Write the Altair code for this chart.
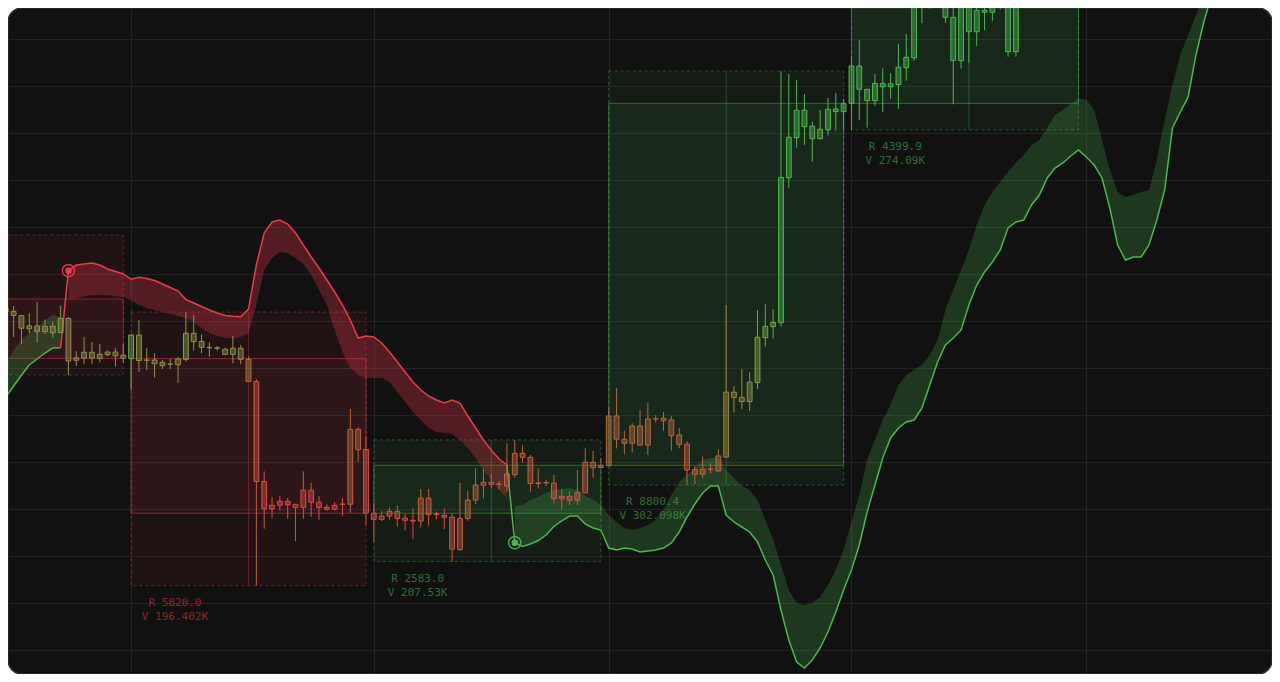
import altair as alt
import pandas as pd

# ---------------- candles (daily) ----------------
opens = [67200, 67205, 67115, 66835, 66895, 66775, 66890, 66755, 67055, 66165,
         66210, 66335, 66205, 66285, 66340, 66275, 66200, 66700, 66165, 66170,
         66120, 66080, 66070, 66185, 66740, 66565, 66440, 66430, 66400, 66290,
         66420, 66185, 65715, 63585, 63005, 63080, 63165, 63100, 63035, 63400,
         63145, 63035, 62995, 63100, 63100, 64695, 64265, 62910, 62780, 62850,
         62950, 62805, 62760, 62745, 63230, 62885, 62825, 62825, 62135, 62800,
         63190, 63505, 63570, 63525, 63490, 63730, 64185, 64100, 63540, 63555,
         63550, 63220, 63270, 63185, 63347, 63995, 63885, 63920, 64980, 64485,
         64400, 64765, 64360, 64915, 64930, 64895, 64575, 64380, 63845, 63740,
         63845, 63810, 64105, 65485, 65375, 65285, 65690, 66645, 66880, 66965,
         70050, 70900, 71485, 71145, 70880, 71070, 71455, 71455, 71630, 72425,
         71930, 71690, 72055, 71985, 72030, 72390, 72600, 73700, 74255, 74100,
         74300, 73460, 72540, 73940, 73155, 73610, 73570, 74045, 74250, 72730]
highs = [67425, 67320, 67130, 67165, 67400, 67030, 66985, 67325, 67080, 66360,
         66660, 66555, 66515, 66375, 66430, 66510, 66715, 67020, 66420, 66315,
         66170, 66190, 66240, 67190, 67130, 66715, 66545, 66470, 66430, 66680,
         66490, 66240, 65760, 63800, 63255, 63275, 63235, 63100, 63800, 63555,
         63275, 63100, 63150, 63230, 65130, 64740, 64555, 63120, 62955, 63035,
         63080, 62895, 63015, 63425, 63425, 62945, 63015, 62900, 63555, 63390,
         63865, 63865, 63745, 63595, 64400, 64470, 64360, 64150, 63865, 63615,
         63725, 63420, 63385, 63830, 64290, 64235, 64085, 65165, 65570, 64665,
         64825, 65105, 65260, 65000, 65065, 64980, 64725, 64445, 63915, 64115,
         63970, 64270, 67340, 65615, 65980, 65910, 67235, 67355, 67255, 72320,
         72255, 72130, 71830, 71235, 71490, 71745, 71850, 71725, 72625, 72980,
         71935, 72255, 72375, 72270, 72895, 73105, 74360, 75000, 74700, 74900,
         74600, 73800, 74255, 74150, 73830, 73900, 74255, 74500, 74470, 74575]
lows = [67045, 66660, 66510, 66740, 66545, 66725, 66645, 66750, 65850, 66045,
        66085, 66085, 66115, 66255, 66030, 66100, 65545, 65920, 65955, 65795,
        65980, 65980, 65685, 66135, 66370, 66315, 66240, 66370, 66275, 66100,
        66080, 65715, 61370, 62580, 62795, 62965, 62795, 62315, 62795, 62835,
        62770, 62965, 62965, 62855, 62920, 64005, 62645, 62305, 62740, 62770,
        62625, 62540, 62355, 62610, 62645, 62780, 62570, 61880, 62115, 62750,
        63105, 63230, 63440, 63420, 63370, 63675, 63985, 63370, 63440, 63490,
        63120, 62980, 63085, 63085, 63335, 63665, 63885, 63920, 64290, 64165,
        64200, 64345, 64150, 64845, 64665, 64240, 64290, 63510, 63530, 63655,
        63760, 63795, 64090, 65050, 65130, 65085, 65555, 66455, 66625, 66880,
        69835, 70685, 70745, 70390, 70865, 70945, 71050, 71065, 71065, 71275,
        71115, 71575, 71445, 71730, 71515, 72115, 72540, 73335, 73645, 73800,
        73345, 71610, 72370, 72495, 72855, 73190, 73390, 73630, 72625, 72625]
closes = [67270, 67115, 66845, 66895, 66780, 66885, 66750, 67055, 66150, 66215,
          66335, 66210, 66290, 66340, 66260, 66205, 66700, 66160, 66170, 66090,
          66050, 66085, 66190, 66740, 66560, 66440, 66430, 66420, 66290, 66420,
          66185, 65715, 63585, 63005, 63080, 63165, 63090, 63035, 63400, 63145,
          63035, 62995, 63080, 63105, 64695, 64260, 62910, 62780, 62850, 62950,
          62800, 62760, 62745, 63230, 62885, 62895, 62865, 62145, 62800, 63190,
          63510, 63570, 63525, 63530, 63745, 64185, 64100, 63540, 63555, 63565,
          63220, 63270, 63185, 63355, 63995, 63880, 63930, 64980, 64485, 64400,
          64765, 64360, 64915, 64920, 64880, 64560, 64375, 63830, 63740, 63845,
          63850, 64130, 65485, 65375, 65285, 65700, 66655, 66885, 66970, 70055,
          70910, 71485, 71135, 70880, 71080, 71505, 71510, 71630, 72425, 71930,
          71690, 72055, 71985, 72045, 72400, 72610, 74150, 74680, 73940, 74600,
          73460, 72540, 74045, 73155, 73610, 73570, 74045, 74250, 72730, 74360]
# trend-strength tone of each candle: 0 = bearish red ... 3 = bullish green
tones = [2.2, 2.1, 2.1, 2.1, 2.2, 2.2, 2.2, 2.4, 1.9, 2.0,
         2.0, 1.9, 1.9, 1.9, 1.9, 1.8, 2.5, 2.0, 2.1, 1.9,
         2.0, 2.0, 1.9, 2.4, 2.3, 2.1, 2.1, 2.0, 1.9, 2.0,
         1.8, 1.4, 0.5, 0.3, 0.15, 0.15, 0.15, 0.15, 0.2, 0.2,
         0.15, 0.15, 0.15, 0.2, 0.9, 0.7, 0.2, 0.15, 0.15, 0.15,
         0.15, 0.15, 0.15, 0.5, 0.5, 0.3, 0.3, 0.4, 0.5, 0.6,
         0.7, 0.7, 0.7, 0.7, 0.7, 0.8, 0.8, 0.6, 0.7, 0.7,
         0.4, 0.3, 0.3, 0.4, 0.5, 0.7, 0.7, 1.0, 0.9, 0.9,
         0.9, 0.8, 0.9, 0.9, 0.9, 0.8, 0.7, 0.5, 0.4, 0.5,
         0.5, 0.6, 1.6, 1.7, 1.8, 2.0, 2.4, 2.6, 2.7, 3.0,
         3.0, 3.0, 3.0, 2.9, 2.9, 3.0, 3.0, 3.0, 3.0, 3.0,
         3.0, 3.0, 3.0, 3.0, 3.0, 3.0, 3.0, 3.0, 3.0, 3.0,
         3.0, 3.0, 3.0, 3.0, 3.0, 3.0, 3.0, 3.0, 3.0, 3.0]

# ---------------- trailing trend bands ----------------
bull_left_start = 0
bull_left_line = [65383, 65617, 65851, 66064, 66191, 66319, 66426, 66432]
bull_left_edge = [66064, 66383, 66596, 66745, 66872, 67021, 67128, 67085]

bear_start = 8
bear_line = [68070, 68191, 68213, 68234, 68191, 68106, 68053, 68000,
             67887, 67930, 67904, 67862, 67787, 67713, 67638, 67457, 67383, 67309,
             67234, 67170, 67117, 67102, 67091, 67255, 68191, 68872, 69106, 69149,
             69064, 68872, 68617, 68362, 68128, 67872, 67617, 67340, 67021, 66638,
             66681, 66660, 66532, 66340, 66128, 65915, 65702, 65532, 65404, 65319,
             65255, 65319, 65255, 64979, 64723, 64468, 64255, 64064, 63936]
bear_edge = [67468, 67489, 67532, 67553, 67553, 67553, 67532, 67511,
             67447, 67340, 67277, 67234, 67191, 67149, 67106, 67064, 66979, 66851,
             66745, 66681, 66638, 66628, 66660, 66745, 67340, 68085, 68340, 68468,
             68447, 68340, 68213, 67979, 67660, 67340, 66809, 66340, 66000, 65851,
             65787, 65787, 65787, 65702, 65489, 65277, 65064, 64894, 64723, 64638,
             64617, 64596, 64468, 64298, 64085, 63830, 63617, 63404, 63234]

bull_start = 65
bull_line = [62283, 62202, 62255, 62330, 62447, 62628, 62745, 62851, 62851, 62681,
             62596, 62553, 62170, 62128, 62170, 62149, 62085, 62106, 62128, 62170,
             62277, 62511, 62830, 63106, 63340, 63489, 63489, 62872, 62723, 62617,
             62511, 62298, 61915, 61596, 60851, 60213, 59745, 59617, 59787, 60043,
             60383, 60809, 61277, 61702, 62234, 62936, 63511, 64085, 64511, 64723,
             64851, 64894, 65149, 65638, 66128, 66489, 66638, 66809, 67340, 67766,
             68043, 68255, 68511, 68979, 69106, 69149, 69468, 69681, 70043, 70255,
             70362, 70511, 70638, 70489, 70319, 70043, 69404, 68617, 68298, 68362,
             68362, 68617, 69149, 69787, 71106, 71447, 71766, 72660, 73362, 73936]
bull_edge = [63064, 63085, 63191, 63255, 63340, 63404, 63426, 63447, 63404, 63277,
             63191, 63085, 62872, 62723, 62596, 62553, 62596, 62660, 62766, 62979,
             63298, 63574, 63723, 63872, 64043, 64085, 64085, 63830, 63660, 63489,
             63404, 63191, 62766, 62340, 61809, 61277, 61000, 60957, 61000, 61128,
             61383, 61702, 62128, 62723, 63298, 64043, 64468, 64894, 65213, 65638,
             65851, 65957, 66064, 66277, 66596, 67234, 67660, 68085, 68511, 69043,
             69468, 69745, 69957, 70170, 70362, 70532, 70745, 70851, 71106, 71383,
             71489, 71617, 71745, 71702, 71489, 70851, 70213, 69745, 69638, 69681,
             69745, 69787, 70426, 71277, 72021, 72660, 73085, 73511, 73936, 74468]

# ---------------- monthly range boxes ----------------
box_start = [-15, 16, 47, 77, 108]
box_end = [15, 46, 76, 107, 137]
box_mid = [0, 31, 62, 92, 123]
box_high = [68830, 67190, 64470, 72320, 75464]
box_low = [65850, 61370, 61880, 63510, 71064]
box_open = [67468, 66200, 62910, 63930, 71630]
box_close = [66205, 62910, 63930, 71630, 74800]
box_trend = ["bear", "bear", "bull", "bull", "bull"]
box_range_text = ["", "5820.0", "2583.0", "8800.4", "4399.9"]
box_volume_text = ["", "196.402K", "207.53K", "302.098K", "274.09K"]

# ---------------- tables ----------------
candles = pd.DataFrame({"i": list(range(len(opens))), "o": opens, "h": highs,
                        "l": lows, "c": closes, "tone": tones})
candles["top"] = candles[["o", "c"]].max(axis=1)
candles["bot"] = candles[["o", "c"]].min(axis=1)

line_rows = []
for k, v in enumerate(bull_left_line):
    line_rows.append({"seg": "g1", "trend": "bull", "i": bull_left_start + k, "v": v})
line_rows.append({"seg": "r", "trend": "bear", "i": bear_start - 1, "v": bull_left_line[-1]})
for k, v in enumerate(bear_line):
    line_rows.append({"seg": "r", "trend": "bear", "i": bear_start + k, "v": v})
line_rows.append({"seg": "g2", "trend": "bull", "i": bull_start - 1, "v": bear_line[-1]})
for k, v in enumerate(bull_line):
    line_rows.append({"seg": "g2", "trend": "bull", "i": bull_start + k, "v": v})
lines = pd.DataFrame(line_rows)


def band_table(start, ln, ed):
    return pd.DataFrame({"i": [start + k for k in range(len(ln))], "v": ln, "e": ed})


band_g1 = band_table(bull_left_start, bull_left_line, bull_left_edge)
band_r = band_table(bear_start, bear_line, bear_edge)
band_g2 = band_table(bull_start, bull_line, bull_edge)

flips = pd.DataFrame({"i": [bear_start, bull_start],
                      "v": [bear_line[0], bull_line[0]],
                      "trend": ["bear", "bull"]})

boxes = pd.DataFrame({"start": box_start, "end": box_end, "mid": box_mid,
                      "high": box_high, "low": box_low, "open": box_open,
                      "close": box_close, "trend": box_trend,
                      "rng": box_range_text, "vol": box_volume_text})
labels = boxes[boxes["rng"] != ""].copy()
labels["lx"] = labels["start"] + 5.6
labels["rtext"] = "R " + labels["rng"]
labels["vtext"] = "V " + labels["vol"]

# ---------------- scales ----------------
BEAR = "#ef3a4c"
BULL = "#4cb850"
xs = alt.Scale(domain=[0.28, 161.71], nice=False, zero=False, padding=0)
ys = alt.Scale(domain=[59489.4, 73659.6], nice=False, zero=False, padding=0)
xaxis = alt.Axis(values=[16, 47, 77, 108, 138], labels=False, ticks=False,
                 domain=False, grid=True, title=None)
yaxis = alt.Axis(values=list(range(60000, 74000, 1000)), labels=False, ticks=False,
                 domain=False, grid=True, title=None)
trend_scale = alt.Scale(domain=["bear", "bull"], range=[BEAR, BULL])
tone_scale = alt.Scale(domain=[0, 1, 2, 3],
                       range=["#e8404c", "#b26a42", "#8e924c", "#4cb850"])


def X(f):
    return alt.X(f"{f}:Q", scale=xs, axis=xaxis)


def Y(f):
    return alt.Y(f"{f}:Q", scale=ys, axis=yaxis)


tcol = alt.Color("trend:N", scale=trend_scale, legend=None)
tfill = alt.Fill("trend:N", scale=trend_scale, legend=None)
tstroke = alt.Stroke("trend:N", scale=trend_scale, legend=None)

box_outer = alt.Chart(boxes).mark_rect(
    fillOpacity=0.07, strokeOpacity=0.4, strokeWidth=1, strokeDash=[3, 3], clip=True
).encode(x=X("start"), x2="end", y=Y("high"), y2="low", fill=tfill, stroke=tstroke)

box_inner = alt.Chart(boxes).mark_rect(
    fillOpacity=0.07, strokeOpacity=0.5, strokeWidth=1, clip=True
).encode(x=X("start"), x2="end", y=Y("open"), y2="close", fill=tfill, stroke=tstroke)

box_mid_rule = alt.Chart(boxes).mark_rule(strokeOpacity=0.35, strokeWidth=1, clip=True).encode(
    x=X("mid"), y=Y("high"), y2="low", color=tcol)


def band_layer(df, colour, op):
    return alt.Chart(df).mark_area(color=colour, opacity=op, clip=True).encode(
        x=X("i"), y=Y("v"), y2=alt.Y2("e:Q"))


area_g1 = band_layer(band_g1, BULL, 0.24)
area_r = band_layer(band_r, BEAR, 0.29)
area_g2 = band_layer(band_g2, BULL, 0.24)

trend_line = alt.Chart(lines).mark_line(strokeWidth=1.5, clip=True).encode(
    x=X("i"), y=Y("v"), color=tcol, detail="seg:N", order="i:Q")

tc = alt.Color("tone:Q", scale=tone_scale, legend=None)
wick_up = alt.Chart(candles).mark_rule(strokeWidth=1, clip=True).encode(
    x=X("i"), y=Y("h"), y2="top", color=tc)
wick_dn = alt.Chart(candles).mark_rule(strokeWidth=1, clip=True).encode(
    x=X("i"), y=Y("bot"), y2="l", color=tc)
bodies = alt.Chart(candles).mark_bar(size=4.8, fillOpacity=0.45, strokeWidth=1, clip=True).encode(
    x=X("i"), y=Y("top"), y2="bot", color=tc,
    stroke=alt.Stroke("tone:Q", scale=tone_scale, legend=None))

ring = alt.Chart(flips).mark_point(filled=False, size=150, strokeWidth=1.5, opacity=0.9, clip=True).encode(
    x=X("i"), y=Y("v"), color=tcol)
dot = alt.Chart(flips).mark_circle(size=42, opacity=1, clip=True).encode(
    x=X("i"), y=Y("v"), color=tcol)

rtext = alt.Chart(labels).mark_text(font="DejaVu Sans Mono", fontSize=11, align="center",
                                    baseline="middle", dy=17, opacity=0.55, clip=True).encode(
    x=X("lx"), y=Y("low"), text="rtext:N", color=tcol)
vtext = alt.Chart(labels).mark_text(font="DejaVu Sans Mono", fontSize=11, align="center",
                                    baseline="middle", dy=31, opacity=0.55, clip=True).encode(
    x=X("lx"), y=Y("low"), text="vtext:N", color=tcol)

chart = alt.layer(
    box_outer, box_inner, box_mid_rule, area_g1, area_r, area_g2, trend_line,
    wick_up, wick_dn, bodies, ring, dot, rtext, vtext
).resolve_scale(
    color="independent", fill="independent", stroke="independent"
).properties(
    width=1264, height=666, padding=0,
    autosize=alt.AutoSizeParams(type="none"),
    background="white",
).configure_view(
    fill="#111111", stroke="#2f2f2f", strokeWidth=1.5, cornerRadius=14
).configure_axis(
    gridColor="#232323", gridWidth=1
)

chart.save("out.html", embed_options={"renderer": "svg", "actions": False})
